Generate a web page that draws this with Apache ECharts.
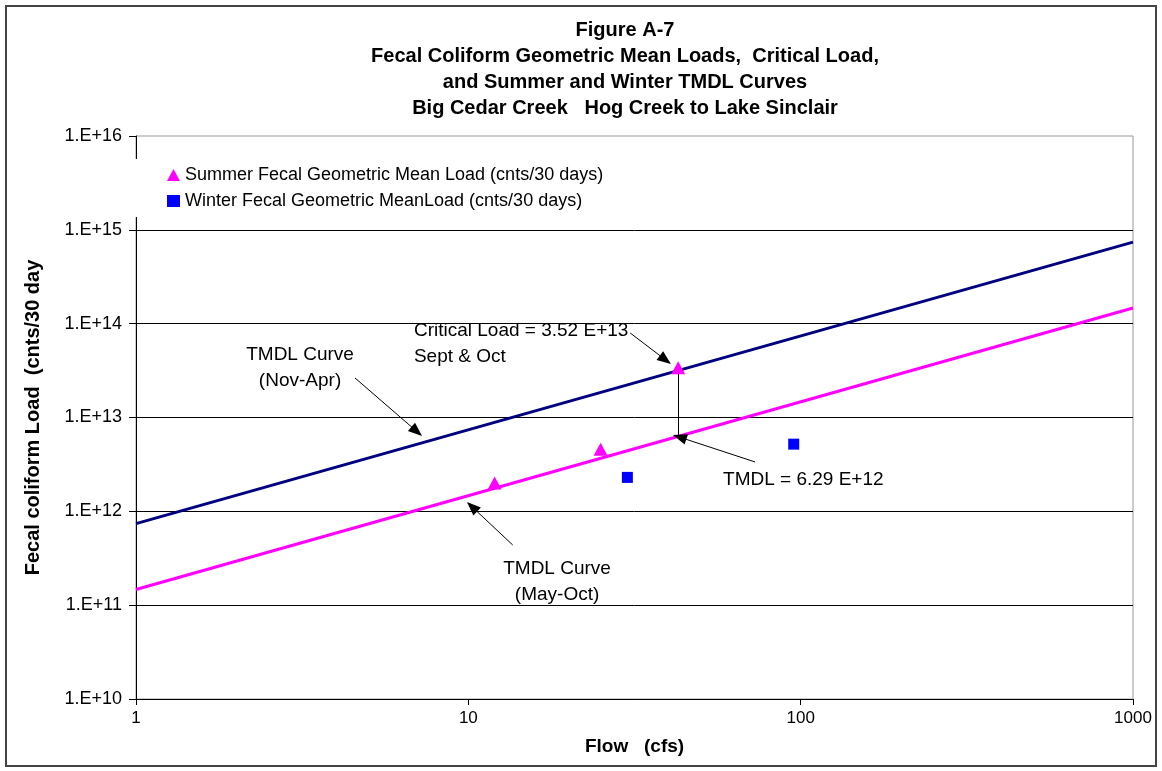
<!DOCTYPE html>
<html><head><meta charset="utf-8">
<script src="https://cdn.jsdelivr.net/npm/echarts@6/dist/echarts.min.js"></script>
<style>html,body{margin:0;padding:0;background:#fff}#c{width:1162px;height:771px}</style>
</head><body><div id="c"></div>
<script>
// ---- data ----
var titleLines = ['Figure A-7','Fecal Coliform Geometric Mean Loads,  Critical Load,','and Summer and Winter TMDL Curves','Big Cedar Creek   Hog Creek to Lake Sinclair'];
var summerName = 'Summer Fecal Geometric Mean Load (cnts/30 days)';
var winterName = 'Winter Fecal Geometric MeanLoad (cnts/30 days)';
var summerPoints = [[12, 2.0e12], [25, 4.6e12], [42.8, 3.4e13]];
var winterPoints = [[30.1, 2.3e12], [95.3, 5.2e12]];
var summerTmdlCurve = [[1, 1.47e11], [1000, 1.47e14]];
var winterTmdlCurve = [[1, 7.4e11], [1000, 7.4e14]];
var xTicks = [1, 10, 100, 1000];
var yTickExponents = [10, 11, 12, 13, 14, 15, 16];
// annotation arrows: [from, arrowhead centre]
var arrows = [
  [[30.7, 7.95e13], [39.17, 4.12e13]],
  [[4.56, 2.64e13], [6.995, 7.11e12]],
  [[72.9, 3.36e12], [43.24, 6.17e12]],
  [[13.6, 4.38e11], [10.26, 1.117e12]]
];
var criticalDrop = [[42.8, 3.4e13], [42.8, 6.29e12]];
// annotation texts: [x, y, text, align]
var notes = [
  [6.86, 6.07e13, 'Critical Load = 3.52 E+13\nSept & Oct', 'left'],
  [3.116, 3.37e13, 'TMDL Curve\n(Nov-Apr)', 'center'],
  [58.4, 2.16e12, 'TMDL = 6.29 E+12', 'left'],
  [18.49, 1.765e11, 'TMDL Curve\n(May-Oct)', 'center']
];

var FONT = '"Liberation Sans", Arial, sans-serif';
var chart = echarts.init(document.getElementById('c'), null, {renderer: 'canvas'});

var markLineData = arrows.map(function (a) {
  return [{coord: a[0], symbol: 'none'}, {coord: a[1], symbol: 'triangle'}];
});
markLineData.push([{coord: criticalDrop[0], symbol: 'none'}, {coord: criticalDrop[1], symbol: 'none'}]);

var option = {
  animation: false,
  backgroundColor: '#fff',
  title: {
    text: titleLines.join('\n'),
    left: 620, top: 12, textAlign: 'center',
    textStyle: {fontFamily: FONT, fontWeight: 'bold', fontSize: 20, lineHeight: 26, color: '#000'}
  },
  graphic: [{
    type: 'rect', shape: {x: 6, y: 6, width: 1150, height: 760},
    style: {fill: 'none', stroke: '#444', lineWidth: 2}, silent: true, z: 100
  }],
  legend: {
    orient: 'vertical', left: 130, top: 159,
    padding: [7, 12, 7, 37], itemGap: 8,
    backgroundColor: '#fff', itemWidth: 13, itemHeight: 12,
    textStyle: {fontFamily: FONT, fontSize: 18, color: '#000'},
    data: [{name: summerName, icon: 'triangle'}, {name: winterName, icon: 'rect'}],
    selectedMode: false
  },
  grid: {left: 136, top: 136, right: 29, bottom: 72, show: true, borderColor: '#999', borderWidth: 1, backgroundColor: '#fff'},
  xAxis: {
    type: 'log', logBase: 10, min: xTicks[0], max: xTicks[xTicks.length - 1],
    name: 'Flow   (cfs)', nameLocation: 'middle', nameGap: 38,
    nameTextStyle: {fontFamily: FONT, fontWeight: 'bold', fontSize: 19, color: '#000'},
    axisLine: {lineStyle: {color: '#000', width: 1}},
    axisTick: {show: true, length: 6, lineStyle: {color: '#000'}},
    axisLabel: {fontFamily: FONT, fontSize: 17, color: '#000', margin: 11,
      formatter: function (v) { return String(Math.round(v)); }},
    splitLine: {show: false}
  },
  yAxis: {
    type: 'log', logBase: 10, min: Math.pow(10, yTickExponents[0]), max: Math.pow(10, yTickExponents[yTickExponents.length - 1]),
    name: 'Fecal coliform Load  (cnts/30 day', nameLocation: 'middle', nameGap: 93, nameRotate: 90,
    nameTextStyle: {fontFamily: FONT, fontWeight: 'bold', fontSize: 20, color: '#000'},
    axisLine: {lineStyle: {color: '#000', width: 1}},
    axisTick: {show: true, length: 7, lineStyle: {color: '#000'}},
    axisLabel: {fontFamily: FONT, fontSize: 18, color: '#000', margin: 14,
      formatter: function (v) { return '1.E+' + Math.round(Math.log10(v)); }},
    splitLine: {show: true, showMaxLine: false, lineStyle: {color: '#000', width: 1}}
  },
  series: [
    {name: 'Winter TMDL', type: 'line', data: winterTmdlCurve, symbol: 'none', silent: true,
     lineStyle: {color: '#000080', width: 3}, z: 3},
    {name: 'Summer TMDL', type: 'line', data: summerTmdlCurve, symbol: 'none', silent: true,
     lineStyle: {color: '#FF00FF', width: 3}, z: 3,
     markLine: {silent: true, symbolSize: [11, 14], label: {show: false},
       itemStyle: {color: '#000'},
       lineStyle: {color: '#000', width: 1, type: 'solid', opacity: 1}, emphasis: {disabled: true},
       data: markLineData}},
    {name: summerName, type: 'scatter', data: summerPoints, symbol: 'triangle', symbolSize: [14, 13],
     itemStyle: {color: '#FF00FF', opacity: 1}, z: 5},
    {name: winterName, type: 'scatter', data: winterPoints, symbol: 'rect', symbolSize: 11,
     itemStyle: {color: '#0000FF', opacity: 1}, z: 5},
    {name: 'notes', type: 'scatter', symbolSize: 0, silent: true, z: 6,
     itemStyle: {opacity: 1},
     data: notes.map(function (n) {
       return {value: [n[0], n[1]], name: n[2],
         label: {show: true, position: 'inside', formatter: n[2], align: n[3], verticalAlign: 'middle',
           fontFamily: FONT, fontSize: 19, lineHeight: 26, color: '#000', opacity: 1}};
     })}
  ]
};
chart.setOption(option);
</script></body></html>
